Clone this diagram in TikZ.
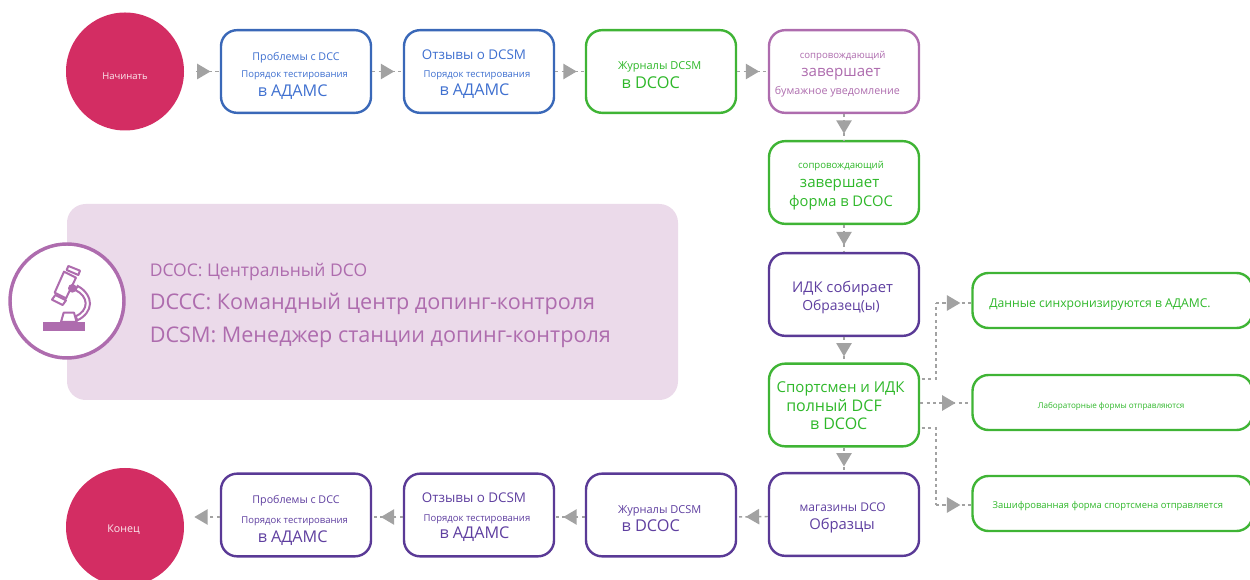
\documentclass[tikz,border=0pt]{standalone}
\usepackage{fontspec}
\setmainfont{Open Sans}
\usetikzlibrary{arrows.meta,decorations.markings,calc}
\definecolor{blueL}{HTML}{3A68B8}
\definecolor{blueT}{HTML}{3F70D0}
\definecolor{greenL}{HTML}{3FB435}
\definecolor{greenT}{HTML}{2FB82A}
\definecolor{purpL}{HTML}{5A3A96}
\definecolor{purpT}{HTML}{5F3FA0}
\definecolor{orchid}{HTML}{AE6CAE}
\definecolor{panel}{HTML}{EBDAEA}
\definecolor{crimson}{HTML}{D32D63}
\definecolor{agray}{HTML}{A2A2A2}
\newcommand\T[2]{{\fontsize{\fpeval{#1*0.75}}{14}\selectfont #2}}
\newcommand\D[1]{\rule{0pt}{#1pt}}
\newcommand\Sh[1]{\hspace*{#1pt}}
\tikzset{
  x=.75pt,y=-.75pt,
  stepbox/.style={draw=#1,line width=1.8pt,rounded corners=12pt,fill=white,minimum width=112.5pt,minimum height=62pt,inner sep=0pt,align=center},
  sidebox/.style={draw=greenL,text=greenT,line width=1.8pt,rounded corners=12pt,fill=white,minimum width=210pt,minimum height=41.25pt,inner sep=0pt,align=center},
  terminal/.style={circle,fill=crimson,text=white!90!crimson,minimum size=88.5pt,inner sep=0pt},
  plainlink/.style={draw=agray,line width=1.1pt,dash pattern=on 2.4pt off 2.4pt},
  flow/.style={plainlink,postaction={decorate},decoration={markings,mark=at position #1 with {\arrow[xshift=5pt]{Triangle[length=10pt,width=11.5pt,fill=agray,color=agray]}}}},
  flow/.default=.5
}
\begin{document}
\begin{tikzpicture}
\useasboundingbox (0,0) rectangle (1250,580);
\clip (0,0) rectangle (1250,580);
% top row
\node[terminal,font=\fontsize{7.1}{9}\selectfont] (start) at (125,71.5) {\D{11.4}Начинать};
\node[stepbox=blueL,text=blueT] (b1) at (296,71.5) {\D{12.3}\T{10.7}{Проблемы с DCC}\\[.8pt]\Sh{-2}\T{9.5}{Порядок тестирования}\\[2pt]\Sh{-5}\T{16.2}{в АДАМС}};
\node[stepbox=blueL,text=blueT] (b2) at (479,71.5) {\D{11.5}\Sh{-7.5}\T{13.4}{Отзывы о DCSM}\\[1.5pt]\Sh{-3}\T{9.5}{Порядок тестирования}\\[2pt]\Sh{-6.8}\T{16.2}{в АДАМС}};
\node[stepbox=greenL,text=greenT] (b3) at (661,71.5) {\D{11.2}\Sh{-2}\T{11}{Журналы DCSM}\\[2pt]\Sh{-15.5}\T{16.3}{в DCOC}};
\node[stepbox=orchid,text=orchid] (b4) at (844,71.5) {\D{9.9}\Sh{-2}\T{9.6}{сопровождающий}\\[1pt]\Sh{-4.5}\T{15.1}{завершает}\\[2pt]\Sh{-10}\T{10.7}{бумажное уведомление}};
% right column
\node[stepbox=greenL,text=greenT] (b5) at (844,182.5) {\D{10.6}\Sh{-4.5}\T{9.6}{сопровождающий}\\[1.7pt]\Sh{-6.5}\T{15.1}{завершает}\\[2.5pt]\Sh{-4.5}\T{14.7}{форма в DCOC}};
\node[stepbox=purpL,text=purpT] (b6) at (844,294.5) {\D{13.2}\Sh{-2}\T{14.8}{ИДК собирает}\\[2pt]\Sh{-4.5}\T{13.9}{Образец(ы)}};
\node[stepbox=greenL,text=greenT] (b7) at (844,405) {\D{9.6}\Sh{-5}\T{15}{Спортсмен и ИДК}\\[2pt]\Sh{-15}\T{16}{полный DCF}\\[2pt]\Sh{-8}\T{16}{в DCOC}};
\node[stepbox=purpL,text=purpT] (b8) at (844,514.5) {\D{11.4}\Sh{-2}\T{12}{магазины DCO}\\[1.5pt]\Sh{-3}\T{14.8}{Образцы}};
% bottom row
\node[stepbox=purpL,text=purpT] (c3) at (661,515) {\D{11.2}\Sh{-2}\T{11}{Журналы DCSM}\\[2pt]\Sh{-15.5}\T{16.3}{в DCOC}};
\node[stepbox=purpL,text=purpT] (c2) at (479,515) {\D{10.7}\Sh{-7.5}\T{13.4}{Отзывы о DCSM}\\[2.2pt]\Sh{-3}\T{9.5}{Порядок тестирования}\\[1pt]\Sh{-6.8}\T{16.2}{в АДАМС}};
\node[stepbox=purpL,text=purpT] (c1) at (296,515) {\D{13.8}\T{10.7}{Проблемы с DCC}\\[3pt]\Sh{-2}\T{9.5}{Порядок тестирования}\\[2pt]\Sh{-5}\T{16.2}{в АДАМС}};
\node[terminal,font=\fontsize{8}{9}\selectfont] (end) at (125,527) {\D{9.9}\Sh{-2}Конец};
% side boxes
\node[sidebox] (r1) at (1112.5,300.5) {\D{12.4}\Sh{-18.8}\T{12.15}{Данные синхронизируются в АДАМС.}};
\node[sidebox] (r2) at (1112.5,402.5) {\D{10.3}\Sh{-2}\T{8.1}{Лабораторные формы отправляются}};
\node[sidebox] (r3) at (1112.5,503.5) {\D{9.9}\Sh{-7}\T{9.43}{Зашифрованная форма спортсмена отправляется}};
% connectors
\draw[flow=.55,shorten <=9pt] (start) -- (b1);
\draw[flow] (b1) -- (b2);
\draw[flow] (b2) -- (b3);
\draw[flow] (b3) -- (b4);
\draw[flow] (b4) -- (b5);
\draw[flow] (b5) -- (b6);
\draw[flow] (b6) -- (b7);
\draw[flow] (b7) -- (b8);
\draw[flow] ($(b8.west)+(0,2)$) -- ($(c3.east)+(0,2)$);
\draw[flow] ($(c3.west)+(0,2)$) -- ($(c2.east)+(0,2)$);
\draw[flow] ($(c2.west)+(0,2)$) -- ($(c1.east)+(0,2)$);
\coordinate (e1) at ($(c1.west)+(0,2)$);
\coordinate (e2) at ($(e1 -| end.east)$);
\draw[flow=.53,shorten >=9pt] (e1) -- (e2);
\coordinate (s1) at ($(b7.east)+(1.5,-26)$);
\coordinate (s3) at ($(b7.east)+(1.5,23)$);
\coordinate (s2) at ($(b7.east)+(0,-2)$);
\coordinate (j1) at (936,303);
\coordinate (j3) at (936,505);
\draw[plainlink] (s1) -| (j1);
\draw[plainlink] (s3) -| (j3);
\draw[flow] (j1) -- (r1.west |- j1);
\draw[flow=.56] (s2) -- (r2.west |- s2);
\draw[flow] (j3) -- (r3.west |- j3);
% legend panel
\fill[panel,rounded corners=14pt] (67,204) rectangle (678,400);
\node[text=orchid,anchor=west,inner sep=0pt,align=left] (legend) at (149.5,305.5) {\T{17.5}{DCOC: Центральный DCO}\\[8pt]\T{21.6}{DCCC: Командный центр допинг-контроля}\\[8pt]\T{21.6}{DCSM: Менеджер станции допинг-контроля}};
% microscope icon
\draw[orchid,line width=2.6pt,fill=white] (67,301) circle (57);
\begin{scope}[shift={(30,255)},x=.25pt,y=-.25pt]
\fill[orchid] (38,201) rectangle (165,228);
\draw[orchid,line width=1.5pt,line join=round,fill=white] (101,173) -- (132,173) -- (140,201) -- (93,201) -- cycle;
\draw[orchid,line width=1.5pt,fill=white] (143,93) .. controls (168,106) and (180,128) .. (180,146) .. controls (180,166) and (164,186) .. (142,196) -- (137,184) .. controls (155,176) and (167,162) .. (167,145) .. controls (167,130) and (155,114) .. (136,105) -- cycle;
\draw[orchid,line width=1.5pt,line join=round,fill=white] (115,33) -- (150,47) -- (145,60) -- (110,45) -- cycle;
\draw[orchid,line width=1.5pt,line join=round,fill=white] (102,50) -- (138,68) -- (108,130) -- (74,113) -- cycle;
\draw[orchid,line width=1.5pt,line join=round,fill=white] (76,120) -- (108,136) -- (98,150) -- (66,134) -- cycle;
\fill[orchid] (127,100) circle (13);
\end{scope}
\end{tikzpicture}
\end{document}
